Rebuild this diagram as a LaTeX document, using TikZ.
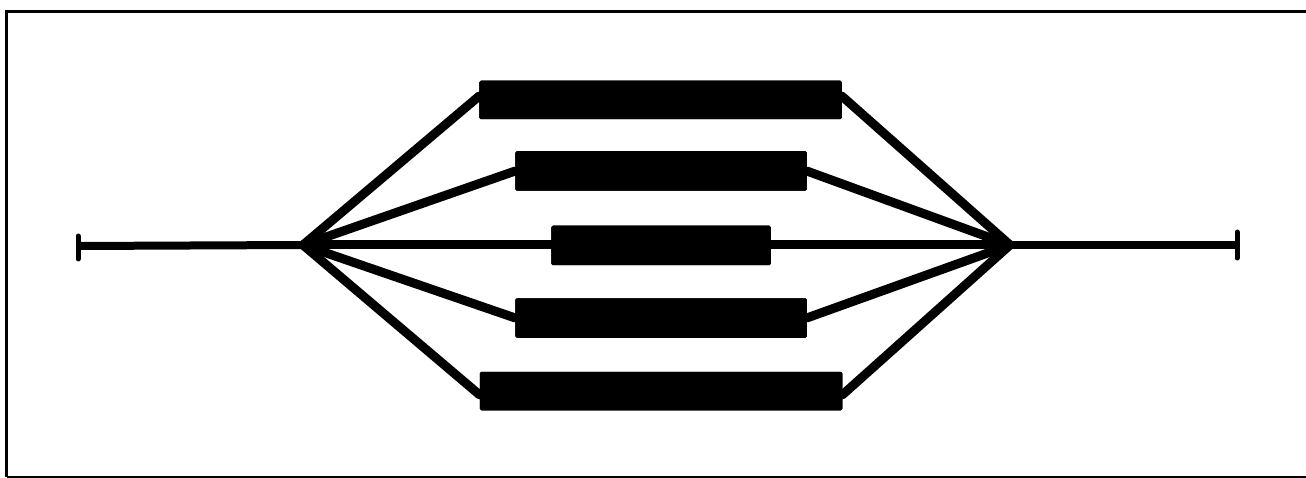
\documentclass[tikz,border=0pt]{standalone}
\begin{document}
\begin{tikzpicture}[x=1pt,y=-1pt,
  bar/.style={draw=black,fill=black,rounded corners=1.5pt,inner sep=0pt,line width=0.5pt},
  wire/.style={line width=9pt,line cap=round},
  lead/.style={line width=8pt},
  tick/.style={line width=5pt,line cap=round}]
\useasboundingbox (0,0) rectangle (1306,478);
% frame
\draw[line width=3pt] (6.5,476.5) -- (6.5,11.5) -- (1310,11.5);
\draw[line width=2pt] (6.5,476.5) -- (1310,476.5);
% hubs and ends
\coordinate (hl) at (303,245);
\coordinate (hr) at (1010,245);
\coordinate (el) at (78,246);
\coordinate (er) at (1237,245);
\coordinate (elt) at (78,236);
\coordinate (elb) at (78,259);
\coordinate (ert) at (1237,232);
\coordinate (erb) at (1237,258);
% boxes
\node[bar,minimum width=362pt,minimum height=38pt] (b1) at (660.5,100) {};
\node[bar,minimum width=291pt,minimum height=39pt] (b2) at (661,171) {};
\node[bar,minimum width=219pt,minimum height=39pt] (b3) at (661,245.5) {};
\node[bar,minimum width=291pt,minimum height=39pt] (b4) at (661,318) {};
\node[bar,minimum width=362pt,minimum height=38pt] (b5) at (661,391) {};
% leads
\draw[lead] (el) -- (hl);
\draw[lead] (hr) -- (er);
\draw[tick] (elt) -- (elb);
\draw[tick] (ert) -- (erb);
% wires
\draw[wire] (hl) -- ([yshift=4pt]b1.west);
\draw[wire] (hl) -- (b2.west);
\draw[wire] (hl) -- (hr);
\draw[wire] (hl) -- (b4.west);
\draw[wire] (hl) -- ([yshift=-4pt]b5.west);
\draw[wire] (hr) -- ([yshift=4pt]b1.east);
\draw[wire] (hr) -- (b2.east);
\draw[wire] (hr) -- (b4.east);
\draw[wire] (hr) -- ([yshift=-4pt]b5.east);
% redraw boxes on top
\foreach \b in {b1,b2,b3,b4,b5}{\fill[rounded corners=1.5pt] (\b.north west) rectangle (\b.south east);}
\end{tikzpicture}
\end{document}
